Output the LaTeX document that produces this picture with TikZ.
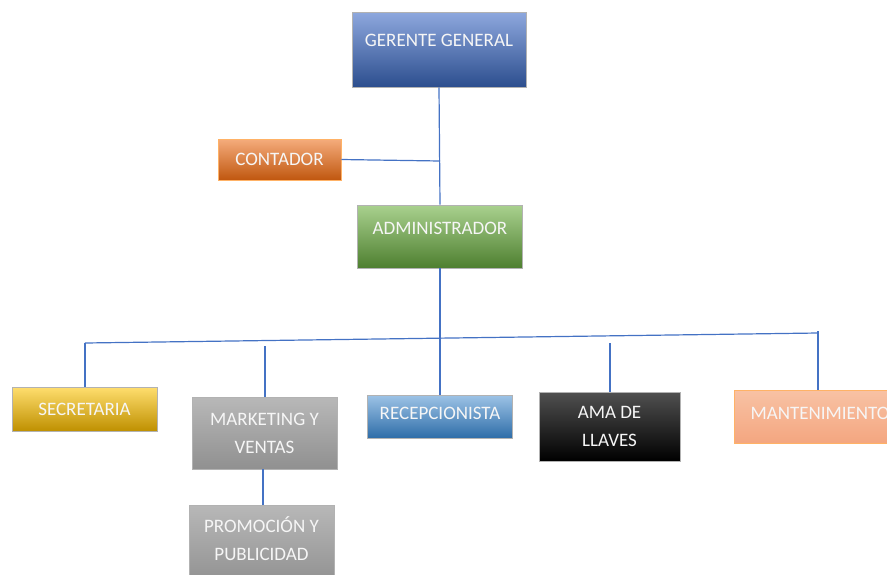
\documentclass[tikz,border=0pt]{standalone}
\usepackage{fontspec}
\setmainfont{Carlito}
\definecolor{linec}{HTML}{4472C4}
\definecolor{txt}{HTML}{F6F6F6}
\tikzset{
  x=1pt,y=-1pt,
  box/.style={rectangle, inner sep=0pt, font=\fontsize{19}{28}\selectfont, text=txt, align=center, draw=#1!60!white, line width=0.6pt},
  conn/.style={draw=linec, line width=1.2pt},
}
\begin{document}
\begin{tikzpicture}
\useasboundingbox (0,0) rectangle (887,574);
% boxes
\node[box=gray, minimum width=174pt, minimum height=75pt, top color={rgb,255:red,142;green,168;blue,222}, bottom color={rgb,255:red,44;green,78;blue,142}, text depth=18pt] (ger) at (439,49.5) {GERENTE GENERAL};
\node[box=orange, minimum width=123pt, minimum height=41pt, top color={rgb,255:red,245;green,172;blue,124}, bottom color={rgb,255:red,192;green,87;blue,15}] (cont) at (279.5,159.5) {CONTADOR};
\node[box=gray, minimum width=165pt, minimum height=63pt, top color={rgb,255:red,169;green,209;blue,142}, bottom color={rgb,255:red,78;green,127;blue,48}, text depth=16pt] (adm) at (440,236.5) {ADMINISTRADOR};
\node[box=gray, minimum width=145pt, minimum height=44pt, top color={rgb,255:red,255;green,222;blue,110}, bottom color={rgb,255:red,191;green,144;blue,0}] (sec) at (84.5,409) {SECRETARIA};
\node[box=gray, minimum width=145pt, minimum height=72pt, top color={rgb,255:red,184;green,184;blue,184}, bottom color={rgb,255:red,144;green,144;blue,144}] (mkt) at (264.5,433) {MARKETING Y\\VENTAS};
\node[box=gray, minimum width=145pt, minimum height=43pt, top color={rgb,255:red,157;green,195;blue,230}, bottom color={rgb,255:red,46;green,109;blue,168}, text depth=7pt] (rec) at (440,416.5) {RECEPCIONISTA};
\node[box=gray, minimum width=141pt, minimum height=69pt, top color={rgb,255:red,80;green,80;blue,80}, middle color=black, bottom color=black] (ama) at (609.5,426.5) {AMA DE\\LLAVES};
\node[box=orange, minimum width=172pt, minimum height=53pt, top color={rgb,255:red,248;green,194;blue,164}, bottom color={rgb,255:red,244;green,166;blue,128}, text depth=7pt] (man) at (820,416.5) {MANTENIMIENTO};
\node[box=gray, minimum width=145pt, minimum height=80pt, top color={rgb,255:red,184;green,184;blue,184}, bottom color={rgb,255:red,144;green,144;blue,144}, text depth=12pt] (pro) at (261.5,545) {PROMOCIÓN Y\\PUBLICIDAD};
% bus coordinates
\coordinate (bl) at (85,343);
\coordinate (br) at (818,333);
\coordinate (cj) at (440,161);
\coordinate (mt) at (265,346);
\coordinate (at) at (610,343);
\coordinate (rt) at (818,331);
% connectors
\draw[conn] (ger.south) -- (adm.north);
\draw[conn] (cont.east) -- (cj);
\draw[conn] (adm.south) -- (rec.north);
\draw[conn] (bl) -- (br);
\draw[conn] (bl) -- (sec.north -| bl);
\draw[conn] (mt) -- (mkt.north -| mt);
\draw[conn] (at) -- (ama.north -| at);
\draw[conn] (rt) -- (man.north -| rt);
\draw[conn] (mkt.south -| 263,0) -- (pro.north -| 263,0);
\end{tikzpicture}
\end{document}
